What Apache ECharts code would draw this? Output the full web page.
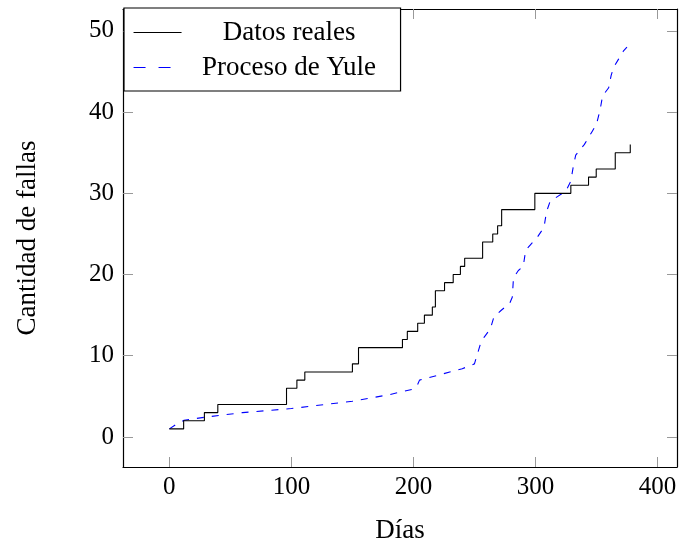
<!DOCTYPE html>
<html>
<head>
<meta charset="utf-8">
<script src="https://cdn.jsdelivr.net/npm/echarts@6/dist/echarts.min.js"></script>
<style>html,body{margin:0;padding:0;background:#fff}#c{width:680px;height:549px}</style>
</head>
<body>
<div id="c"></div>
<script>
// Datos reales: days at which the cumulative failure count changes, and the count
const realDays   = [0, 11.7, 28.7, 39.7, 96, 104.5, 111, 150, 155, 191, 195, 203.5, 209, 215.5, 218, 225.5, 232.6, 238.5, 242, 256.7, 265, 269, 272.3, 299.5, 329, 343.5, 349.8, 365.4, 377.7];
const realCounts = [1, 2, 3, 4, 6, 7, 8, 9, 11, 12, 13, 14, 15, 16, 18, 19, 20, 21, 22, 24, 25, 26, 28, 30, 31, 32, 33, 35, 36];
// Proceso de Yule (expected curve)
const yuleDays   = [0, 5, 12, 30, 60, 100, 150, 180, 200, 203, 205, 220, 240, 250, 255, 258, 263, 266, 272, 279, 281, 282, 286, 290, 292, 298, 302, 307, 309, 312, 318, 325, 329, 331, 333, 340, 346, 350, 353, 355, 360, 362, 364, 368, 372, 375];
const yuleValues = [1, 1.5, 2.05, 2.45, 3.0, 3.5, 4.4, 5.2, 5.9, 6.3, 7.0, 7.6, 8.4, 9.0, 11.5, 12.3, 13.3, 14.8, 15.6, 16.5, 17.2, 19.6, 20.5, 21.0, 23.0, 24.0, 24.7, 25.8, 27.7, 29.0, 29.6, 30.3, 31.5, 33.3, 34.7, 36.0, 37.5, 38.5, 40.3, 42.0, 43.0, 44.5, 45.5, 46.5, 47.5, 48.0];
const seriesNames = ['Datos reales', 'Proceso de Yule'];
const xTicks = [0, 100, 200, 300, 400];
const yTicks = [0, 10, 20, 30, 40, 50];
const xTitle = 'Días';
const yTitle = 'Cantidad de fallas';

const FONT = '"Liberation Serif", serif';
const chart = echarts.init(document.getElementById('c'), null, {renderer: 'canvas'});
const zip = (a, b) => a.map((v, i) => [v, b[i]]);
const tick = vals => ({show: true, inside: true, length: 10, customValues: vals, lineStyle: {color: '#999', width: 1}});
const lineAx = {show: true, onZero: false, lineStyle: {color: '#000', width: 1.2}};
const xr = {min: -38, max: 416};
const yr = {min: -3.7, max: 52.7};

chart.setOption({
  animation: false,
  backgroundColor: '#fff',
  grid: {left: 123, right: 3, top: 9, bottom: 81, containLabel: false},
  legend: {
    orient: 'vertical', left: 124, top: 8,
    data: [{name: seriesNames[0]}, {name: seriesNames[1], lineStyle: {type: [12, 13], width: 1.1}}],
    padding: [11, 9, 10, 9], itemGap: 8, itemWidth: 48, itemHeight: 14,
    backgroundColor: '#fff', borderColor: '#000', borderWidth: 1.2, borderRadius: 0,
    itemStyle: {opacity: 0},
    lineStyle: {width: 1.1},
    formatter: n => '{t|' + n + '}',
    textStyle: {fontFamily: FONT, fontSize: 27, color: '#000',
      rich: {t: {width: 205, align: 'center', lineHeight: 30, fontSize: 27, fontFamily: FONT, color: '#000'}}},
    z: 20
  },
  xAxis: [
    Object.assign({type: 'value', position: 'bottom', name: xTitle, nameLocation: 'middle', nameGap: 50,
      nameTextStyle: {fontFamily: FONT, fontSize: 27, color: '#000'},
      axisLine: lineAx, axisTick: tick(xTicks), splitLine: {show: false},
      axisLabel: {fontFamily: FONT, fontSize: 25, color: '#000', margin: 8, customValues: xTicks}}, xr),
    Object.assign({type: 'value', position: 'top', axisLine: lineAx, axisTick: tick(xTicks),
      splitLine: {show: false}, axisLabel: {show: false}}, xr)
  ],
  yAxis: [
    Object.assign({type: 'value', position: 'left', name: yTitle, nameLocation: 'middle', nameGap: 82, nameRotate: 90,
      nameTextStyle: {fontFamily: FONT, fontSize: 27, color: '#000'},
      axisLine: lineAx, axisTick: tick(yTicks), splitLine: {show: false},
      axisLabel: {fontFamily: FONT, fontSize: 25, color: '#000', margin: 9, customValues: yTicks}}, yr),
    Object.assign({type: 'value', position: 'right', axisLine: lineAx, axisTick: tick(yTicks),
      splitLine: {show: false}, axisLabel: {show: false}}, yr)
  ],
  series: [
    {name: seriesNames[0], type: 'line', step: 'end', symbol: 'none', xAxisIndex: 0, yAxisIndex: 0,
      data: zip(realDays, realCounts), lineStyle: {color: '#000', width: 1.1}, itemStyle: {color: '#000'}, z: 3},
    {name: seriesNames[1], type: 'line', symbol: 'none', xAxisIndex: 0, yAxisIndex: 0,
      data: zip(yuleDays, yuleValues), lineStyle: {color: '#0000ff', width: 1.1, type: [7, 8]}, itemStyle: {color: '#0000ff'}, z: 2}
  ]
});
</script>
</body>
</html>
